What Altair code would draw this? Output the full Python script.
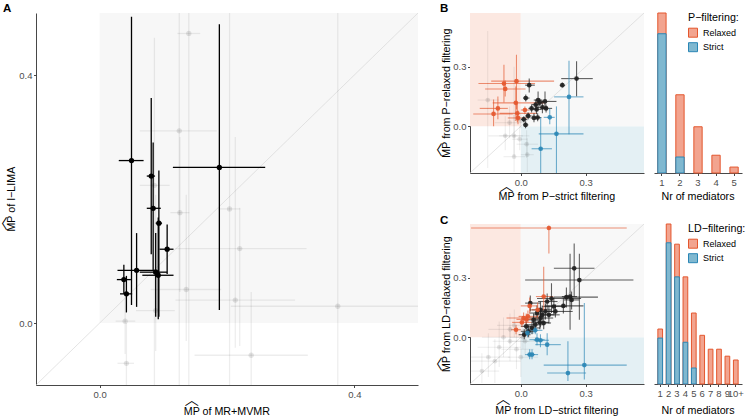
import altair as alt
import pandas as pd

FONT = "Liberation Sans"
HAT = "\ufe3f"
TFS = 10.7   # title font size
HAT_GAP = 14.5

# ---------------- Panel A: MR+MVMR (x) vs I-LIMA (y) ----------------
# (x, y, xlo, xhi, ylo, yhi)
A_sig = [
    (0.050, 0.262, 0.030, 0.069, 0.029, 0.494),
    (0.081, 0.237, 0.074, 0.087, 0.111, 0.363),
    (0.084, 0.185, 0.074, 0.096, 0.084, 0.291),
    (0.093, 0.161, 0.088, 0.098, 0.010, 0.246),
    (0.188, 0.251, 0.115, 0.260, 0.021, 0.482),
    (0.106, 0.119, 0.094, 0.116, 0.079, 0.159),
    (0.058, 0.085, 0.028, 0.091, 0.026, 0.145),
    (0.088, 0.082, 0.063, 0.106, 0.010, 0.145),
    (0.092, 0.077, 0.067, 0.116, 0.006, 0.170),
    (0.038, 0.070, 0.027, 0.049, 0.047, 0.094),
    (0.042, 0.047, 0.032, 0.051, 0.017, 0.076),
]
A_ns = [
    (0.140, 0.467, 0.122, 0.158, -0.300, 0.700),
    (0.125, 0.310, 0.063, 0.184, -0.300, 0.700),
    (0.086, 0.222, 0.063, 0.110, -0.300, 0.460),
    (0.126, 0.178, 0.111, 0.141, 0.050, 0.300),
    (0.204, 0.184, 0.186, 0.221, -0.300, 0.700),
    (0.220, 0.120, 0.119, 0.325, -0.037, 0.186),
    (0.136, 0.054, 0.080, 0.191, -0.029, 0.207),
    (0.213, 0.037, 0.119, 0.307, -0.040, 0.300),
    (0.088, 0.020, 0.057, 0.118, -0.045, 0.207),
    (0.040, 0.003, 0.025, 0.056, -0.050, 0.050),
    (0.042, -0.065, 0.028, 0.054, -0.120, 0.000),
    (0.238, -0.052, 0.149, 0.327, -0.150, 0.050),
    (0.374, 0.027, 0.206, 0.600, -0.300, 0.700),
]
A_dom = [-0.1, 0.5]
A_ticks = [0, 0.4]
A_region = [(0.0, 0.5, 0.0, 0.5, "#F7F7F7")]

# ---------------- Panel B: P-strict (x) vs P-relaxed (y) ----------------
B_both = [
    (0.258, 0.240, 0.187, 0.333, 0.151, 0.327),
    (0.192, 0.207, 0.180, 0.205, 0.195, 0.220),
    (0.039, 0.207, 0.020, 0.065, 0.170, 0.240),
    (0.023, 0.142, 0.010, 0.040, 0.125, 0.160),
    (0.080, 0.132, 0.060, 0.100, 0.090, 0.175),
    (0.112, 0.125, 0.095, 0.165, 0.085, 0.175),
    (0.050, 0.090, 0.035, 0.070, 0.070, 0.110),
    (0.073, 0.085, 0.055, 0.095, 0.060, 0.110),
    (0.100, 0.095, 0.075, 0.125, 0.065, 0.130),
    (0.117, 0.090, 0.095, 0.145, 0.070, 0.110),
    (0.061, 0.042, 0.045, 0.080, 0.020, 0.065),
    (0.034, 0.052, 0.020, 0.050, 0.035, 0.070),
    (0.022, 0.007, 0.010, 0.035, -0.010, 0.025),
    (0.014, 0.035, 0.000, 0.030, 0.020, 0.050),
    (0.078, 0.044, 0.060, 0.095, 0.025, 0.065),
    (0.069, 0.109, 0.050, 0.090, 0.085, 0.135),
    (0.088, 0.120, 0.070, 0.105, 0.100, 0.140),
]
B_relaxed = [
    (-0.078, 0.215, -0.196, 0.066, 0.120, 0.310),
    (-0.020, 0.227, -0.137, 0.154, 0.085, 0.360),
    (-0.072, 0.188, -0.165, 0.022, 0.150, 0.230),
    (-0.023, 0.118, -0.130, 0.110, 0.027, 0.200),
    (-0.106, 0.090, -0.190, -0.060, 0.035, 0.150),
    (-0.126, 0.062, -0.220, -0.037, 0.000, 0.135),
    (-0.016, 0.065, -0.098, 0.074, 0.020, 0.115),
    (-0.013, 0.042, -0.060, 0.030, 0.010, 0.080),
    (0.019, 0.082, 0.000, 0.040, 0.060, 0.100),
]
B_strict = [
    (0.223, 0.148, 0.154, 0.290, -0.040, 0.330),
    (0.134, 0.045, 0.106, 0.157, 0.010, 0.090),
    (0.165, -0.038, 0.083, 0.290, -0.300, 0.100),
    (0.092, -0.113, 0.050, 0.144, -0.300, 0.045),
]
B_none = [
    (-0.153, 0.132, -0.200, -0.100, -0.210, 0.480),
    (-0.052, 0.018, -0.120, 0.020, -0.060, 0.100),
    (-0.072, -0.048, -0.150, 0.010, -0.120, 0.050),
    (-0.031, -0.048, -0.100, 0.040, -0.150, 0.060),
    (-0.031, -0.153, -0.080, 0.020, -0.230, 0.300),
    (0.027, -0.090, -0.020, 0.080, -0.160, -0.020),
    (0.030, -0.143, 0.000, 0.060, -0.230, -0.060),
    (-0.005, -0.065, -0.040, 0.030, -0.120, 0.000),
    (0.000, 0.030, -0.030, 0.030, -0.010, 0.060),
]

# ---------------- Panel C: LD-strict (x) vs LD-relaxed (y) ----------------
C_both = [
    (0.247, 0.347, 0.153, 0.341, 0.205, 0.472),
    (0.271, 0.288, 0.020, 0.521, 0.088, 0.420),
    (0.142, 0.195, 0.075, 0.279, 0.122, 0.272),
    (0.211, 0.202, 0.153, 0.357, 0.150, 0.250),
    (0.228, 0.205, 0.190, 0.260, 0.038, 0.420),
    (0.235, 0.188, 0.200, 0.270, 0.140, 0.230),
    (0.197, 0.158, 0.110, 0.290, 0.120, 0.200),
    (0.044, 0.172, 0.020, 0.090, 0.130, 0.210),
    (0.091, 0.138, 0.050, 0.140, 0.090, 0.180),
    (0.099, 0.113, 0.060, 0.150, 0.070, 0.160),
    (0.091, 0.097, 0.040, 0.150, 0.050, 0.140),
    (0.088, 0.075, 0.050, 0.130, 0.040, 0.110),
    (0.067, 0.063, 0.030, 0.110, 0.030, 0.100),
    (0.052, 0.047, 0.020, 0.090, 0.015, 0.080),
    (0.036, 0.030, 0.000, 0.070, 0.000, 0.060),
    (0.016, 0.013, -0.010, 0.045, -0.010, 0.040),
    (0.114, 0.130, 0.080, 0.160, 0.090, 0.170),
    (0.130, 0.113, 0.090, 0.180, 0.070, 0.160),
    (0.153, 0.155, 0.100, 0.210, 0.110, 0.200),
    (0.075, 0.122, 0.040, 0.110, 0.080, 0.160),
    (0.106, 0.072, 0.070, 0.140, 0.040, 0.110),
    (0.059, 0.088, 0.030, 0.090, 0.060, 0.120),
    (0.025, 0.055, 0.000, 0.050, 0.030, 0.080),
    (0.122, 0.180, 0.080, 0.170, 0.140, 0.220),
    (0.160, 0.130, 0.120, 0.240, 0.100, 0.165),
]
C_relaxed = [
    (0.130, 0.550, -0.230, 0.490, 0.422, 0.563),
    (0.013, 0.097, -0.066, 0.091, 0.070, 0.125),
    (0.033, 0.105, -0.010, 0.080, 0.075, 0.135),
    (0.005, 0.075, -0.040, 0.050, 0.050, 0.100),
    (-0.022, 0.038, -0.045, 0.000, 0.015, 0.060),
    (0.106, 0.205, 0.070, 0.150, 0.138, 0.355),
    (0.078, 0.138, 0.040, 0.120, 0.100, 0.175),
    (0.041, 0.158, 0.000, 0.080, 0.120, 0.200),
    (0.025, 0.090, -0.020, 0.070, 0.060, 0.120),
]
C_strict = [
    (0.294, -0.140, 0.106, 0.490, -0.212, 0.172),
    (0.218, -0.180, 0.122, 0.302, -0.220, -0.020),
    (0.122, -0.037, 0.067, 0.185, -0.090, 0.020),
    (0.075, -0.012, 0.040, 0.110, -0.040, 0.020),
    (0.091, -0.015, 0.060, 0.130, -0.050, 0.015),
    (0.041, -0.087, 0.020, 0.065, -0.110, -0.060),
    (0.052, -0.087, 0.030, 0.080, -0.110, -0.060),
    (0.067, 0.035, 0.040, 0.100, 0.015, 0.060),
    (0.031, 0.022, 0.005, 0.060, 0.000, 0.045),
]
C_none = [
    (-0.150, -0.100, -0.230, -0.050, -0.200, 0.020),
    (-0.100, -0.050, -0.200, 0.000, -0.150, 0.080),
    (-0.050, -0.020, -0.130, 0.040, -0.120, 0.060),
    (-0.080, 0.000, -0.180, 0.010, -0.100, 0.100),
    (-0.020, -0.060, -0.090, 0.060, -0.160, 0.030),
    (0.000, -0.100, -0.060, 0.080, -0.200, 0.000),
    (-0.120, -0.120, -0.230, 0.000, -0.230, -0.010),
    (-0.050, 0.040, -0.150, 0.060, -0.030, 0.120),
    (0.020, -0.020, -0.040, 0.090, -0.090, 0.050),
    (-0.030, 0.060, -0.110, 0.050, 0.000, 0.140),
    (-0.180, -0.170, -0.230, -0.100, -0.230, -0.080),
    (0.010, 0.000, -0.050, 0.070, -0.060, 0.070),
]
BC_dom = [-0.235, 0.57]
BC_ticks = [0, 0.3]
BC_regions = [
    (-1.0, 0.0, 0.0, 1.0, "#FCE8E1"),
    (0.0, 1.0, -1.0, 0.0, "#E4F0F4"),
    (0.0, 1.0, 0.0, 1.0, "#F8F8F8"),
]

# ---------------- Bar panels: number of mediators ----------------
B_cats = ["1", "2", "3", "4", "5"]
B_bar_relaxed = [27, 13.2, 7.8, 3.0, 1.0]
B_bar_strict = [23.5, 2.7]
C_cats = ["1", "2", "3", "4", "5", "6", "7", "8", "9", "10+"]
C_bar_relaxed = [7.9, 23.0, 20.1, 15.4, 10.2, 7.0, 5.0, 5.0, 4.0, 3.45]
C_bar_strict = [6.6, 20.3, 15.4, 6.0, 2.3]

RED = "#E4572E"
BLUE = "#2A86B5"
REL_FILL = "#F2A48F"
STR_FILL = "#80B8D0"

GROUPS = ["ns", "both", "relaxed", "strict"]


def frame(groups):
    rows = []
    for g, pts in groups:
        for (x, y, xlo, xhi, ylo, yhi) in pts:
            rows.append(dict(x=x, y=y, xlo=xlo, xhi=xhi, ylo=ylo, yhi=yhi, grp=g))
    return pd.DataFrame(rows)


def scatter_panel(df, regions, dom, xr, yr, xaxis, yaxis, rule_cols, pt_cols, rw, psize):
    xs = alt.Scale(domain=dom, range=xr, clamp=True, nice=False, zero=False)
    ys = alt.Scale(domain=dom, range=yr, clamp=True, nice=False, zero=False)

    def X(f):
        return alt.X(f, type="quantitative", scale=xs, axis=xaxis)

    def Y(f):
        return alt.Y(f, type="quantitative", scale=ys, axis=yaxis)

    layers = []
    for (x0, x1, y0, y1, c) in regions:
        rdf = pd.DataFrame({"x0": [x0], "x1": [x1], "y0": [y0], "y1": [y1]})
        layers.append(alt.Chart(rdf).mark_rect(color=c).encode(
            x=X("x0"), x2="x1", y=Y("y0"), y2="y1"))
    ddf = pd.DataFrame({"x0": [dom[0]], "x1": [dom[1]], "y0": [dom[0]], "y1": [dom[1]]})
    layers.append(alt.Chart(ddf).mark_rule(color="#D2D2D2", strokeWidth=0.6).encode(
        x=X("x0"), x2="x1", y=Y("y0"), y2="y1"))
    sk = alt.Stroke("grp:N", scale=alt.Scale(domain=GROUPS, range=rule_cols), legend=None)
    fl = alt.Fill("grp:N", scale=alt.Scale(domain=GROUPS, range=pt_cols), legend=None)
    base = alt.Chart(df)
    layers.append(base.mark_rule(strokeWidth=rw).encode(
        x=X("xlo"), x2="xhi", y=Y("y"), stroke=sk))
    layers.append(base.mark_rule(strokeWidth=rw).encode(
        x=X("x"), y=Y("ylo"), y2="yhi", stroke=sk))
    layers.append(base.mark_circle(size=psize, opacity=1).encode(
        x=X("x"), y=Y("y"), fill=fl))
    return alt.layer(*layers)


def bar_panel(cats, relaxed, strict, ymax, yr, offset, pin, pout, title, ly):
    rows = [{"cat": c, "filt": "Relaxed", "v": v} for c, v in zip(cats, relaxed)]
    rows += [{"cat": c, "filt": "Strict", "v": v} for c, v in zip(cats, strict)]
    df = pd.DataFrame(rows)
    leg = alt.Legend(orient="none", legendX=688, legendY=ly, title=title,
                     titleFont=FONT, titleFontSize=TFS, titleFontWeight="normal",
                     titleColor="black", titlePadding=4, labelFont=FONT,
                     labelFontSize=9, labelColor="black", labelOffset=5,
                     symbolType="square", symbolSize=81, symbolStrokeWidth=1,
                     rowPadding=0.5, padding=0)
    return alt.Chart(df).mark_bar(strokeWidth=1).encode(
        x=alt.X("cat:N", sort=cats,
                scale=alt.Scale(domain=cats, range=[654, 742], paddingInner=pin, paddingOuter=pout),
                axis=alt.Axis(orient="bottom", offset=offset, title=None, labelOverlap=False,
                              labelAngle=0)),
        y=alt.Y("v:Q", stack=None,
                scale=alt.Scale(domain=[0, ymax], range=yr, nice=False, zero=True), axis=None),
        fill=alt.Fill("filt:N", scale=alt.Scale(domain=["Relaxed", "Strict"], range=[REL_FILL, STR_FILL]),
                      legend=leg),
        stroke=alt.Stroke("filt:N", scale=alt.Scale(domain=["Relaxed", "Strict"], range=[RED, BLUE]),
                          legend=leg),
    )


# --------- build panels ---------
dfA = frame([("ns", A_ns), ("both", A_sig)])
panelA = scatter_panel(
    dfA, A_region, A_dom, [36, 418], [385, 13],
    alt.Axis(orient="bottom", offset=385 - 417, values=A_ticks, title=None),
    alt.Axis(orient="left", offset=-36, values=A_ticks, title=None),
    ["rgba(0,0,0,0.07)", "#000000", RED, BLUE],
    ["rgba(0,0,0,0.10)", "#000000", RED, BLUE], 1.3, 28)

dfB = frame([("ns", B_none), ("both", B_both), ("relaxed", B_relaxed), ("strict", B_strict)])
panelB = scatter_panel(
    dfB, BC_regions, BC_dom, [470, 644], [173, 13],
    alt.Axis(orient="bottom", offset=173 - 417, values=BC_ticks, title=None),
    alt.Axis(orient="left", offset=-470, values=BC_ticks, title=None),
    ["rgba(0,0,0,0.07)", "rgba(30,30,30,0.7)", "rgba(228,87,46,0.65)", "rgba(42,134,181,0.65)"],
    ["rgba(0,0,0,0.10)", "rgba(30,30,30,0.9)", "rgba(228,87,46,0.9)", "rgba(42,134,181,0.9)"], 1.1, 22)

dfC = frame([("ns", C_none), ("both", C_both), ("relaxed", C_relaxed), ("strict", C_strict)])
panelC = scatter_panel(
    dfC, BC_regions, BC_dom, [470, 644], [384, 224],
    alt.Axis(orient="bottom", offset=384 - 417, values=BC_ticks, title=None),
    alt.Axis(orient="left", offset=-470, values=BC_ticks, title=None),
    ["rgba(0,0,0,0.07)", "rgba(30,30,30,0.7)", "rgba(228,87,46,0.65)", "rgba(42,134,181,0.65)"],
    ["rgba(0,0,0,0.10)", "rgba(30,30,30,0.9)", "rgba(228,87,46,0.9)", "rgba(42,134,181,0.9)"], 1.1, 22)

barB = bar_panel(B_cats, B_bar_relaxed, B_bar_strict, 27, [173, 13], 173 - 417, 0.54, 0.21,
                 "P\u2212filtering:", 13)
barC = bar_panel(C_cats, C_bar_relaxed, C_bar_strict, 23, [384, 224], 384 - 417, 0.44, 0.46,
                 "LD\u2212filtering:", 224)

# --------- text (titles, labels, hats) ---------
AW = {" ": 278, "M": 833, "P": 667, "o": 556, "f": 278, "R": 722, "+": 584, "V": 667,
      "I": 278, "\u2212": 584, "L": 556, "A": 667, "r": 333, "m": 833, "s": 500,
      "t": 278, "i": 222, "c": 500, "l": 222, "e": 556, "a": 556, "x": 500, "d": 556,
      "n": 556, "g": 556, "D": 722, "N": 722, ":": 278}


def tw(s, fs=TFS):
    return sum(AW.get(c, 556) for c in s) / 1000.0 * fs


def txt(s, x, y, size=TFS, weight="normal", angle=0, align="left", baseline="alphabetic",
        font=FONT, color="black"):
    return alt.Chart(pd.DataFrame({"t": [s]})).mark_text(
        align=align, baseline=baseline, fontSize=size, fontWeight=weight, angle=angle,
        font=font, color=color).encode(x=alt.value(x), y=alt.value(y), text="t:N")


texts = []


def xtitle(s, cx, base, hat=True):
    start = cx - tw(s) / 2
    texts.append(txt(s, start, base))
    if hat:
        texts.append(txt(HAT, start + tw("MP") / 2, base - HAT_GAP, size=14,
                         font="Noto Sans CJK SC", align="center", baseline="middle"))


def ytitle(s, cy, basex):
    start = cy + tw(s) / 2
    texts.append(txt(s, basex, start, angle=270))
    texts.append(txt(HAT, basex - HAT_GAP, start - tw("MP") / 2, size=14, angle=270,
                     font="Noto Sans CJK SC", align="center", baseline="middle"))


xtitle("MP of MR+MVMR", 227, 414.5)
ytitle("MP of I\u2212LIMA", 199, 15)
xtitle("MP from P\u2212strict filtering", 557, 200)
ytitle("MP from P\u2212relaxed filtering", 93, 450)
xtitle("MP from LD\u2212strict filtering", 557, 413.5)
ytitle("MP from LD\u2212relaxed filtering", 304, 450)
xtitle("Nr of mediators", 698, 200, hat=False)
xtitle("Nr of mediators", 698, 413.5, hat=False)
texts.append(txt("A", 3, 11.7, size=11.5, weight="bold"))
texts.append(txt("B", 440, 11.7, size=11.5, weight="bold"))
texts.append(txt("C", 440, 224, size=11.5, weight="bold"))

chart = alt.layer(panelA, panelB, panelC, barB, barC, *texts).resolve_scale(
    x="independent", y="independent", fill="independent", stroke="independent"
).resolve_axis(
    x="independent", y="independent"
).resolve_legend(
    fill="independent", stroke="independent"
).properties(
    width=748, height=417, padding=0, autosize=alt.AutoSizeParams(type="none")
).configure_view(
    stroke="transparent"
).configure_axis(
    labelFont=FONT, labelFontSize=9.5, labelColor="#4D4D4D", domainColor="#333333",
    domainWidth=0.9, tickColor="#333333", tickWidth=0.9, tickSize=2.5, labelPadding=1.5,
    grid=False
)

chart.save("out.html", embed_options={"renderer": "svg", "actions": False})
